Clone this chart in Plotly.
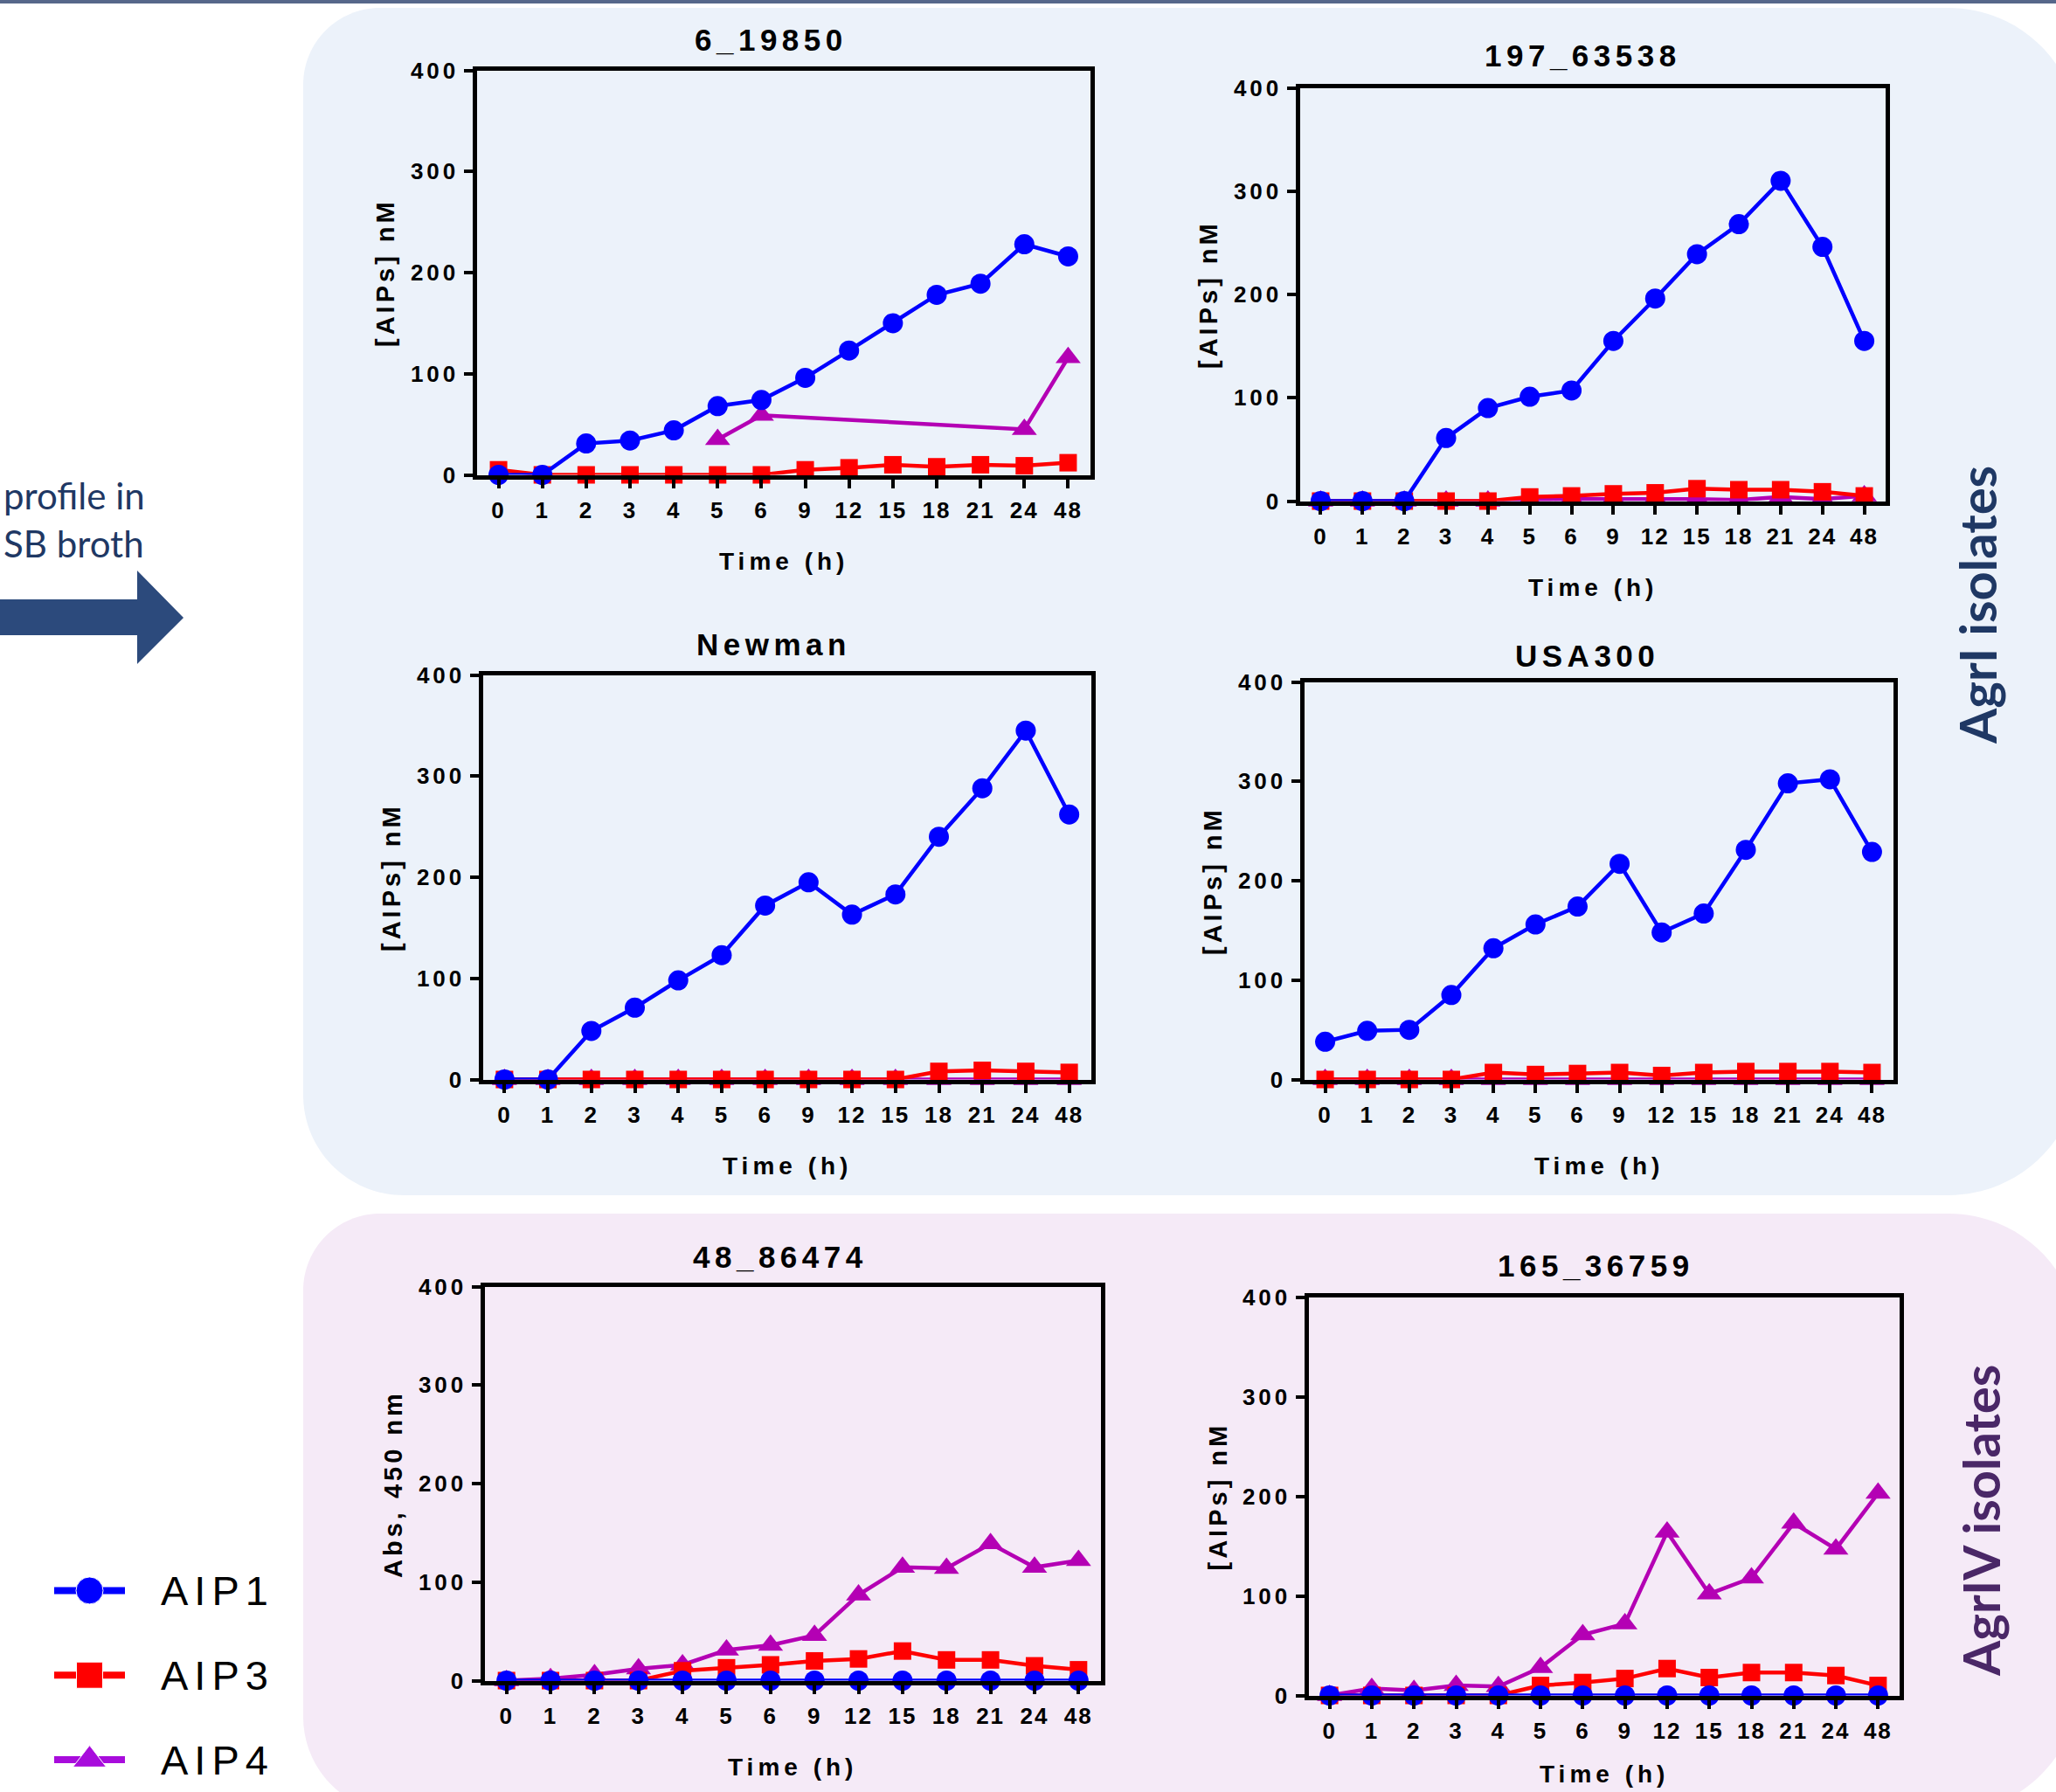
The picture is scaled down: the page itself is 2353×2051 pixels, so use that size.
import plotly.graph_objects as go

W, H = 2353, 2051

# ---------------- data ----------------
TIME_LABELS = ["0", "1", "2", "3", "4", "5", "6", "9", "12", "15", "18", "21", "24", "48"]
Y_TICKS = [0, 100, 200, 300, 400]
SERIES_NAMES = ["AIP1", "AIP3", "AIP4"]

PANEL_TITLES = ["6_19850", "197_63538", "Newman", "USA300", "48_86474", "165_36759"]
Y_TITLES = ["[AIPs] nM", "[AIPs] nM", "[AIPs] nM", "[AIPs] nM", "Abs, 450 nm", "[AIPs] nM"]
X_TITLE = "Time (h)"
GROUP_LABELS = ["AgrI isolates", "AgrIV isolates"]
SIDE_TEXT = ["profile in", "SB broth"]

N = None
AIP1_6_19850 = [0, 0, 31, 34, 44, 68, 74, 96, 123, 150, 178, 189, 228, 216]
AIP3_6_19850 = [5, 0, 0, 0, 0, 0, 0, 5, 7, 10, 8, 10, 9, 12]
AIP4_6_19850 = [N, N, N, N, N, 35, 59, N, N, N, N, N, 45, 116]

AIP1_197_63538 = [0, 0, 0, 61, 90, 101, 107, 155, 196, 239, 268, 310, 246, 155]
AIP3_197_63538 = [0, 0, 0, 0, 0, 4, 5, 7, 8, 12, 11, 11, 9, 5]
AIP4_197_63538 = [0, 0, 0, 0, 0, 1, 2, 2, 2, 2, 1, 4, 2, 5]

AIP1_NEWMAN = [0, 0, 48, 71, 98, 123, 172, 195, 163, 183, 240, 288, 345, 262]
AIP3_NEWMAN = [0, 0, 0, 0, 0, 0, 0, 0, 0, 0, 8, 9, 8, 7]
AIP4_NEWMAN = [0, 0, 0, 0, 0, 0, 0, 0, 0, 0, 0, 0, 0, 0]

AIP1_USA300 = [38, 49, 50, 85, 132, 156, 174, 217, 148, 167, 231, 298, 302, 229]
AIP3_USA300 = [0, 0, 0, 0, 7, 5, 6, 7, 4, 7, 8, 8, 8, 7]
AIP4_USA300 = [0, 0, 0, 0, 0, 0, 0, 0, 0, 0, 0, 0, 0, 0]

AIP1_48_86474 = [0, 0, 0, 0, 0, 0, 0, 0, 0, 0, 0, 0, 0, 0]
AIP3_48_86474 = [0, 0, 0, 0, 10, 13, 16, 20, 22, 30, 21, 21, 15, 11]
AIP4_48_86474 = [0, 2, 6, 12, 16, 31, 36, 46, 87, 115, 114, 139, 115, 122]

AIP1_165_36759 = [0, 0, 0, 0, 0, 0, 0, 0, 0, 0, 0, 0, 0, 0]
AIP3_165_36759 = [0, 0, 0, 0, 0, 10, 13, 17, 27, 18, 23, 23, 20, 10]
AIP4_165_36759 = [0, 7, 5, 10, 9, 28, 61, 72, 164, 102, 118, 173, 147, 203]

PANEL_DATA = [
    {"AIP1": AIP1_6_19850, "AIP3": AIP3_6_19850, "AIP4": AIP4_6_19850},
    {"AIP1": AIP1_197_63538, "AIP3": AIP3_197_63538, "AIP4": AIP4_197_63538},
    {"AIP1": AIP1_NEWMAN, "AIP3": AIP3_NEWMAN, "AIP4": AIP4_NEWMAN},
    {"AIP1": AIP1_USA300, "AIP3": AIP3_USA300, "AIP4": AIP4_USA300},
    {"AIP1": AIP1_48_86474, "AIP3": AIP3_48_86474, "AIP4": AIP4_48_86474},
    {"AIP1": AIP1_165_36759, "AIP3": AIP3_165_36759, "AIP4": AIP4_165_36759},
]

# ---------------- styles / layout ----------------
FONT = "Liberation Sans, Arial, sans-serif"
SLIDE_FONT = "Lato, Open Sans, sans-serif"
STYLE = {
    "AIP1": dict(color="#0000FF", symbol="circle", size=23, lsize=31, lcolor="#0000FF"),
    "AIP3": dict(color="#FF0000", symbol="square", size=20, lsize=30, lcolor="#FF0000"),
    "AIP4": dict(color="#B400B4", symbol="triangle-up", size=25, lsize=33, lcolor="#A80CDC"),
}
DRAW_ORDER = ["AIP4", "AIP3", "AIP1"]

# plot boxes in pixels: left, right, top, bottom (axis-line centres)
BOXES = [(543, 1250, 78, 546), (1485, 2160, 98, 576),
         (550, 1251, 770, 1238), (1490, 2169, 778, 1238),
         (552, 1262, 1470, 1926), (1495, 2176, 1482, 1943)]
TITLE_POS = [(882, 46), (1811, 63), (885, 738), (1816, 750), (893, 1438), (1826, 1448)]


def fx(v):
    return v / W


def fy(v):
    return 1 - v / H


def spaced(t, px):
    return f'<span style="letter-spacing:{px}px">{t}</span>'


fig = go.Figure()
annotations = []

for i, box in enumerate(BOXES):
    n = i + 1
    sfx = "" if n == 1 else str(n)
    L, R, T, B = box
    data = PANEL_DATA[i]
    for name in DRAW_ORDER:
        st = STYLE[name]
        fig.add_trace(go.Scatter(
            x=TIME_LABELS, y=data[name], name=name, mode="lines+markers",
            connectgaps=True, cliponaxis=False, showlegend=False,
            line=dict(color=st["color"], width=4.5),
            marker=dict(color=st["color"], symbol=st["symbol"], size=st["size"]),
            xaxis="x" + sfx, yaxis="y" + sfx, hoverinfo="skip"))

    fig.layout["xaxis" + sfx] = dict(
        type="category", categoryorder="array", categoryarray=TIME_LABELS,
        range=[-0.5, 13.5], domain=[fx(L + 2.5), fx(R - 2.5)], anchor="y" + sfx,
        showline=True, linewidth=5, linecolor="black", mirror=True,
        ticks="outside", ticklen=10, tickwidth=4, tickcolor="black",
        tickmode="array", tickvals=TIME_LABELS,
        ticktext=[spaced(t, 2) for t in TIME_LABELS],
        tickfont=dict(family=FONT, size=26, color="black", weight="bold"),
        showgrid=False, zeroline=False, ticklabelstandoff=3, fixedrange=True,
        automargin=False)
    fig.layout["yaxis" + sfx] = dict(
        range=[0, 400], domain=[fy(B - 2.5), fy(T + 2.5)], anchor="x" + sfx,
        showline=True, linewidth=5, linecolor="black", mirror=True,
        ticks="outside", ticklen=10, tickwidth=4, tickcolor="black",
        tickmode="array", tickvals=Y_TICKS,
        ticktext=[spaced(v, 4) for v in Y_TICKS],
        tickfont=dict(family=FONT, size=26, color="black", weight="bold"),
        showgrid=False, zeroline=False, ticklabelstandoff=0, fixedrange=True,
        automargin=False)

    tx, ty = TITLE_POS[i]
    annotations.append(dict(
        text=spaced(PANEL_TITLES[i], 5.5), x=fx(tx), y=fy(ty), xref="paper", yref="paper",
        xanchor="center", yanchor="middle", showarrow=False,
        font=dict(family=FONT, size=35, color="black", weight="bold")))
    annotations.append(dict(
        text=spaced(X_TITLE, 5), x=fx((L + R) / 2), y=fy(min(B + 96, 2030)),
        xref="paper", yref="paper",
        xanchor="center", yanchor="middle", showarrow=False,
        font=dict(family=FONT, size=28, color="black", weight="bold")))
    annotations.append(dict(
        text=spaced(Y_TITLES[i], 4), x=fx(L - 102), y=fy((T + B) / 2), xref="paper", yref="paper",
        xanchor="center", yanchor="middle", showarrow=False, textangle=-90,
        font=dict(family=FONT, size=29, color="black", weight="bold")))

# ---------------- legend key (own axes) ----------------
LEGEND_KEY_X = [0, 0.5, 1]
for name in SERIES_NAMES:
    st = STYLE[name]
    fig.add_trace(go.Scatter(
        x=LEGEND_KEY_X, y=[name] * 3, mode="lines+markers", showlegend=False,
        cliponaxis=False, hoverinfo="skip",
        line=dict(color=st["lcolor"], width=8),
        marker=dict(color=st["lcolor"], symbol=st["symbol"], size=[0, st["lsize"], 0],
                    opacity=[0, 1, 0]),
        xaxis="x7", yaxis="y7"))
fig.layout["xaxis7"] = dict(domain=[fx(62), fx(143)], range=[0, 1], visible=False,
                            anchor="y7", fixedrange=True, automargin=False)
fig.layout["yaxis7"] = dict(
    type="category", categoryorder="array", categoryarray=SERIES_NAMES,
    range=[2.35, -0.5], domain=[fy(2048), fy(1772)], anchor="x7", side="right",
    showline=False, ticks="", showgrid=False, zeroline=False,
    tickmode="array", tickvals=SERIES_NAMES, ticktext=[spaced(s, 7) for s in SERIES_NAMES],
    tickfont=dict(family=FONT, size=47, color="black"), ticklabelstandoff=40, fixedrange=True,
    automargin=False)

# ---------------- slide decorations ----------------
def P(x, y):
    return f"{fx(x):.5f},{fy(y):.5f}"


def rrect(x0, y0, x1, y1, rtl, rtr, rbr, rbl):
    k = 0.5523
    s = f"M{P(x0 + rtl, y0)} L{P(x1 - rtr, y0)} "
    s += f"C{P(x1 - rtr + k * rtr, y0)} {P(x1, y0 + rtr - k * rtr)} {P(x1, y0 + rtr)} "
    s += f"L{P(x1, y1 - rbr)} "
    s += f"C{P(x1, y1 - rbr + k * rbr)} {P(x1 - rbr + k * rbr, y1)} {P(x1 - rbr, y1)} "
    s += f"L{P(x0 + rbl, y1)} "
    s += f"C{P(x0 + rbl - k * rbl, y1)} {P(x0, y1 - rbl + k * rbl)} {P(x0, y1 - rbl)} "
    s += f"L{P(x0, y0 + rtl)} "
    s += f"C{P(x0, y0 + rtl - k * rtl)} {P(x0 + rtl - k * rtl, y0)} {P(x0 + rtl, y0)} Z"
    return s


shapes = [
    dict(type="path", path=rrect(347, 9, 2380, 1368, 88, 150, 150, 115),
         xref="paper", yref="paper", fillcolor="#ECF2FA", line=dict(width=0), layer="below"),
    dict(type="path", path=rrect(347, 1389, 2380, 2075, 88, 150, 150, 110),
         xref="paper", yref="paper", fillcolor="#F5EAF7", line=dict(width=0), layer="below"),
    dict(type="line", x0=0, x1=1, y0=fy(2), y1=fy(2), xref="paper", yref="paper",
         line=dict(color="#56678A", width=4), layer="below"),
    dict(type="path",
         path=(f"M{P(-5, 686)} L{P(157, 686)} L{P(157, 653)} L{P(210, 707)} "
               f"L{P(157, 760)} L{P(157, 727)} L{P(-5, 727)} Z"),
         xref="paper", yref="paper", fillcolor="#2C4A7C", line=dict(width=0), layer="below"),
]

annotations.append(dict(text=GROUP_LABELS[0], x=fx(2263), y=fy(693), xref="paper", yref="paper",
                        xanchor="center", yanchor="middle", showarrow=False, textangle=-90,
                        font=dict(family=SLIDE_FONT, size=58, color="#1F3864", weight="bold")))
annotations.append(dict(text=GROUP_LABELS[1], x=fx(2266), y=fy(1741), xref="paper", yref="paper",
                        xanchor="center", yanchor="middle", showarrow=False, textangle=-90,
                        font=dict(family=SLIDE_FONT, size=58, color="#4A2767", weight="bold")))
annotations.append(dict(text=SIDE_TEXT[0], x=fx(2), y=fy(567), xref="paper", yref="paper",
                        xanchor="left", yanchor="middle", showarrow=False,
                        font=dict(family=SLIDE_FONT, size=42, color="#1F3864")))
annotations.append(dict(text=SIDE_TEXT[1], x=fx(2), y=fy(622), xref="paper", yref="paper",
                        xanchor="left", yanchor="middle", showarrow=False,
                        font=dict(family=SLIDE_FONT, size=42, color="#1F3864")))

fig.update_layout(
    width=W, height=H, autosize=False,
    margin=dict(l=0, r=0, t=0, b=0, pad=0, autoexpand=False),
    paper_bgcolor="white", plot_bgcolor="rgba(0,0,0,0)",
    showlegend=False, shapes=shapes, annotations=annotations,
    font=dict(family=FONT, color="black"))

PIN_JS = ("var gd=document.getElementById('{plot_id}');"
          "gd.style.position='fixed';gd.style.left='0px';gd.style.top='0px';"
          "document.body.style.margin='0px';document.body.style.overflow='hidden';"
          "document.documentElement.style.overflow='hidden';")

fig.write_html("out.html", config={"displayModeBar": False}, post_script=PIN_JS)
